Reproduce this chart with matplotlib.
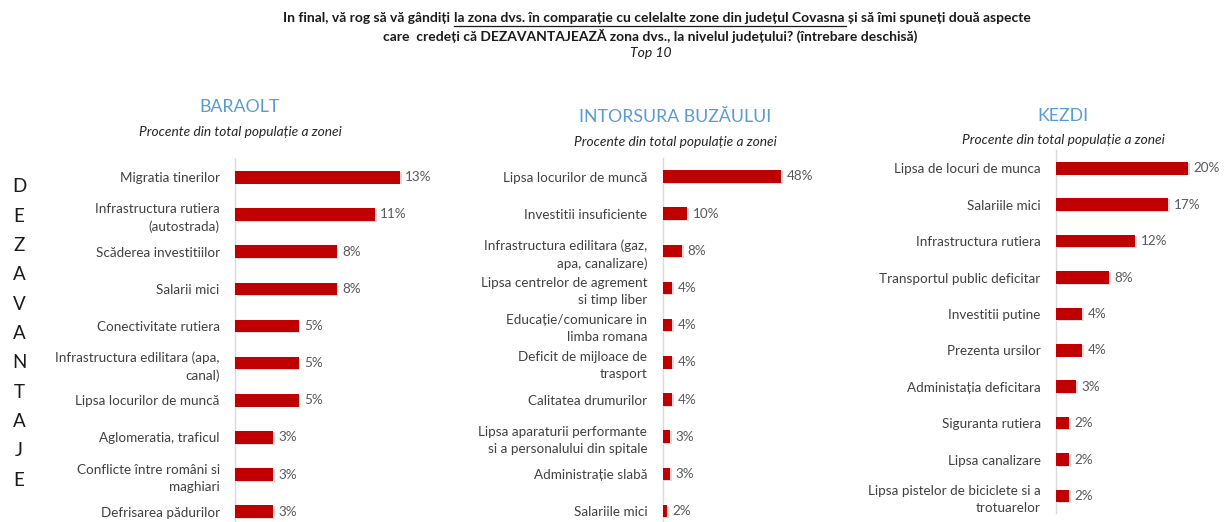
import matplotlib
matplotlib.use("Agg")
import matplotlib.pyplot as plt
import matplotlib.patheffects as pe

plt.rcParams['font.family'] = ['Lato', 'DejaVu Sans']

# ---- data ----
baraolt_labels = ["Migratia tinerilor", "Infrastructura rutiera\n(autostrada)",
                  "Scăderea investitiilor", "Salarii mici", "Conectivitate rutiera",
                  "Infrastructura edilitara (apa,\ncanal)", "Lipsa locurilor de muncă",
                  "Aglomeratia, traficul", "Conflicte între români si\nmaghiari",
                  "Defrisarea pădurilor"]
baraolt_values = [13, 11, 8, 8, 5, 5, 5, 3, 3, 3]

intorsura_labels = ["Lipsa locurilor de muncă", "Investitii insuficiente",
                    "Infrastructura edilitara (gaz,\napa, canalizare)",
                    "Lipsa centrelor de agrement\nsi timp liber",
                    "Educație/comunicare in\nlimba romana",
                    "Deficit de mijloace de\ntrasport", "Calitatea drumurilor",
                    "Lipsa aparaturii performante\nsi a personalului din spitale",
                    "Administrație slabă", "Salariile mici"]
intorsura_values = [48, 10, 8, 4, 4, 4, 4, 3, 3, 2]

kezdi_labels = ["Lipsa de locuri de munca", "Salariile mici", "Infrastructura rutiera",
                "Transportul public deficitar", "Investitii putine", "Prezenta ursilor",
                "Administația deficitara", "Siguranta rutiera", "Lipsa canalizare",
                "Lipsa pistelor de biciclete si a\ntrotuarelor"]
kezdi_values = [20, 17, 12, 8, 4, 4, 3, 2, 2, 2]

zone_names = ["BARAOLT", "INTORSURA BUZĂULUI", "KEZDI"]
subtitle = "Procente din total populație a zonei"
side_word = "DEZAVANTAJE"

title_left = "In final, vă rog să vă gândiți"
title_under = "la zona dvs. în comparație cu celelalte zone din județul Covasna"
title_right = "și să îmi spuneți două aspecte"
title_line2 = "care  credeți că DEZAVANTAJEAZĂ zona dvs., la nivelul județului? (întrebare deschisă)"
title_line3 = "Top 10"

# ---- figure ----
W, H = 1230, 522
fig = plt.figure(figsize=(W / 100, H / 100), dpi=100)
fig.patch.set_facecolor("white")

BAR = "#C00000"
LABEL = "#404040"
VALUE = "#595959"
BLUE = "#5B9BD5"
LFS = 9.7


def px_axes(x0, y0, x1, y1):
    return fig.add_axes([x0 / W, 1 - y1 / H, (x1 - x0) / W, (y1 - y0) / H])


def panel(labels, values, axis_x, first_row, spacing, top, bottom, scale,
          name, name_xy, sub_y):
    width_px = 175
    ax = px_axes(axis_x, top, axis_x + width_px, bottom)
    n = len(values)
    pos = list(range(n))
    bars = ax.barh(pos, values, height=12.5 / spacing, color=BAR, zorder=3)
    for b in bars:
        b.set_path_effects([pe.SimplePatchShadow(offset=(1.3, -0.6),
                                                 shadow_rgbFace="#8c8c8c", alpha=0.3),
                            pe.Normal()])
    for p, v in zip(pos, values):
        ax.annotate(f"{v}%", (v, p), xytext=(3.8, 0), textcoords="offset points",
                    va="center", ha="left", fontsize=LFS, color=VALUE)
    ax.set_xlim(0, width_px / scale)
    ax.set_ylim((bottom - first_row) / spacing, -(first_row - top) / spacing)
    ax.set_yticks(pos)
    ax.set_yticklabels(labels, fontsize=LFS, color=LABEL, linespacing=1.5)
    ax.tick_params(axis="y", length=0, pad=11)
    ax.set_xticks([])
    for s in ("top", "right", "bottom"):
        ax.spines[s].set_visible(False)
    ax.spines["left"].set_color("#D9D9D9")
    ax.spines["left"].set_linewidth(1.0)
    ax.set_facecolor("none")
    fig.text(name_xy[0] / W, 1 - name_xy[1] / H, name, ha="center", va="center",
             fontsize=12.8, color=BLUE)
    fig.text(name_xy[0] / W, 1 - sub_y / H, subtitle, ha="center", va="center",
             fontsize=9.9, style="italic", color="#262626")
    return ax


panel(baraolt_labels, baraolt_values, 235, 177.3, 37.16, 158, 522, 12.7,
      zone_names[0], (240, 106.5), 132)
panel(intorsura_labels, intorsura_values, 662.5, 176.5, 37.17, 158, 522, 2.47,
      zone_names[1], (675.5, 116.5), 142.5)
panel(kezdi_labels, kezdi_values, 1056, 168.3, 36.4, 150, 513, 6.6,
      zone_names[2], (1063, 116), 140.5)

# vertical side word
for i, ch in enumerate(side_word):
    fig.text(19 / W, 1 - (187 + i * 29.3) / H, ch, ha="center", va="center",
             fontsize=13.5, color="#1a1a1a")

# ---- title with underlined middle part ----
fig.canvas.draw()
renderer = fig.canvas.get_renderer()
tfs = 10


def text_w(s):
    t = fig.text(0, 0, s, fontsize=tfs, weight="bold")
    w = t.get_window_extent(renderer).width
    t.remove()
    return w


w1, w2, w3 = text_w(title_left), text_w(title_under), text_w(title_right)
ws = text_w("a a") - text_w("aa")
total = w1 + ws + w2 + ws + w3
cx, y1 = 657, 18
x = cx - total / 2
for s, w in ((title_left, w1), (title_under, w2), (title_right, w3)):
    fig.text(x / W, 1 - y1 / H, s, ha="left", va="center", fontsize=tfs,
             weight="bold", color="#1a1a1a")
    if s is title_under:
        fig.add_artist(plt.Line2D([x / W, (x + w + ws * 0.6) / W],
                                  [1 - (y1 + 7.5) / H] * 2, color="#1a1a1a", lw=0.9))
    x += w + ws

fig.text(650 / W, 1 - 36 / H, title_line2, ha="center", va="center", fontsize=tfs,
         weight="bold", color="#1a1a1a")
fig.text(651 / W, 1 - 53 / H, title_line3, ha="center", va="center", fontsize=tfs,
         style="italic", color="#1a1a1a")

fig.savefig("out.png", dpi=100, facecolor="white")
